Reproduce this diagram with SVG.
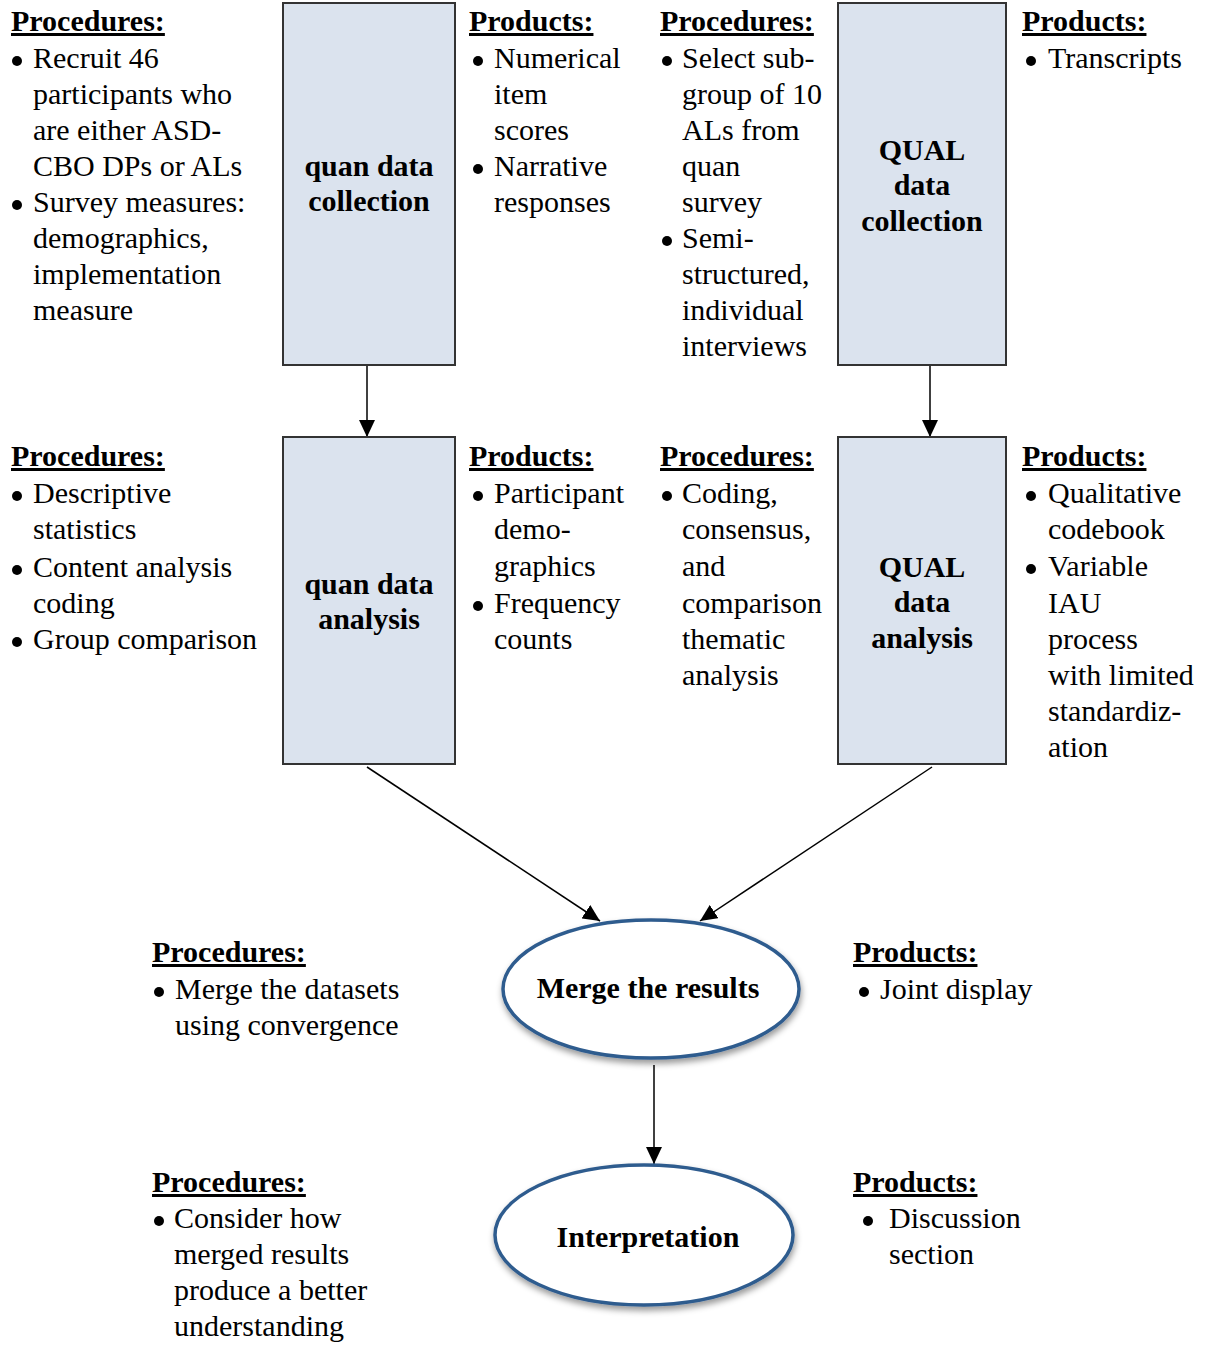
<svg xmlns="http://www.w3.org/2000/svg" width="1210" height="1345" viewBox="0 0 1210 1345">
<style>
.t{font-family:"Liberation Serif","Times New Roman",serif;font-size:30px;fill:#000}
.h{font-family:"Liberation Serif","Times New Roman",serif;font-size:30px;font-weight:bold;fill:#000;text-decoration:underline}
.b{font-family:"Liberation Serif","Times New Roman",serif;font-size:30px;font-weight:bold;fill:#000;text-anchor:middle}
.box{fill:#dbe3ee;stroke:#333;stroke-width:2}
.ell{fill:#fff;stroke:#2f5b8e;stroke-width:3.5}
.dot{fill:#000}
.c{stroke:#000;stroke-width:1.5;fill:none;marker-end:url(#ah)}
</style>
<defs>
<marker id="ah" markerUnits="userSpaceOnUse" markerWidth="18" markerHeight="16" refX="17" refY="8" orient="auto">
<path d="M0,0 L17,8 L0,16 Z" fill="#000"/>
</marker>
<filter id="sh" x="-20%" y="-20%" width="140%" height="150%">
<feDropShadow dx="1" dy="4" stdDeviation="3" flood-color="#000" flood-opacity="0.4"/>
</filter>
</defs>

<g id="connectors">
<line class="c" x1="367" y1="365" x2="367" y2="437"/>
<line class="c" x1="930" y1="365" x2="930" y2="437"/>
<line class="c" x1="367" y1="767" x2="600" y2="921"/>
<line class="c" x1="932" y1="767" x2="700" y2="921"/>
<line class="c" x1="654" y1="1065" x2="654" y2="1164"/>
</g>

<g id="quan-collection">
<rect class="box" x="283" y="3" width="172" height="362"/>
<text class="b" x="369" y="176">quan data</text>
<text class="b" x="369" y="211">collection</text>
</g>
<g id="QUAL-collection">
<rect class="box" x="838" y="3" width="168" height="362"/>
<text class="b" x="922" y="160">QUAL</text>
<text class="b" x="922" y="195">data</text>
<text class="b" x="922" y="231">collection</text>
</g>
<g id="quan-analysis">
<rect class="box" x="283" y="437" width="172" height="327"/>
<text class="b" x="369" y="594">quan data</text>
<text class="b" x="369" y="629">analysis</text>
</g>
<g id="QUAL-analysis">
<rect class="box" x="838" y="437" width="168" height="327"/>
<text class="b" x="922" y="577">QUAL</text>
<text class="b" x="922" y="612">data</text>
<text class="b" x="922" y="648">analysis</text>
</g>
<g id="merge">
<ellipse class="ell" cx="651" cy="989" rx="148" ry="69" filter="url(#sh)"/>
<text class="b" x="648" y="998">Merge the results</text>
</g>
<g id="interpretation">
<ellipse class="ell" cx="644" cy="1235" rx="149" ry="70" filter="url(#sh)"/>
<text class="b" x="648" y="1247">Interpretation</text>
</g>

<g id="proc-quan-collection">
<text class="h" x="11" y="31">Procedures:</text>
<circle class="dot" cx="17" cy="61" r="5"/>
<text class="t" x="33" y="68">Recruit 46</text>
<text class="t" x="33" y="104">participants who</text>
<text class="t" x="33" y="140">are either ASD-</text>
<text class="t" x="33" y="176">CBO DPs or ALs</text>
<circle class="dot" cx="17" cy="205" r="5"/>
<text class="t" x="33" y="212">Survey measures:</text>
<text class="t" x="33" y="248">demographics,</text>
<text class="t" x="33" y="284">implementation</text>
<text class="t" x="33" y="320">measure</text>
</g>
<g id="prod-quan-collection">
<text class="h" x="469" y="31">Products:</text>
<circle class="dot" cx="478" cy="61" r="5"/>
<text class="t" x="494" y="68">Numerical</text>
<text class="t" x="494" y="104">item</text>
<text class="t" x="494" y="140">scores</text>
<circle class="dot" cx="478" cy="169" r="5"/>
<text class="t" x="494" y="176">Narrative</text>
<text class="t" x="494" y="212">responses</text>
</g>
<g id="proc-QUAL-collection">
<text class="h" x="660" y="31">Procedures:</text>
<circle class="dot" cx="667" cy="61" r="5"/>
<text class="t" x="682" y="68">Select sub-</text>
<text class="t" x="682" y="104">group of 10</text>
<text class="t" x="682" y="140">ALs from</text>
<text class="t" x="682" y="176">quan</text>
<text class="t" x="682" y="212">survey</text>
<circle class="dot" cx="667" cy="241" r="5"/>
<text class="t" x="682" y="248">Semi-</text>
<text class="t" x="682" y="284">structured,</text>
<text class="t" x="682" y="320">individual</text>
<text class="t" x="682" y="356">interviews</text>
</g>
<g id="prod-QUAL-collection">
<text class="h" x="1022" y="31">Products:</text>
<circle class="dot" cx="1031" cy="61" r="5"/>
<text class="t" x="1048" y="68">Transcripts</text>
</g>

<g id="proc-quan-analysis">
<text class="h" x="11" y="466">Procedures:</text>
<circle class="dot" cx="17" cy="496" r="5"/>
<text class="t" x="33" y="503">Descriptive</text>
<text class="t" x="33" y="539">statistics</text>
<circle class="dot" cx="17" cy="570" r="5"/>
<text class="t" x="33" y="577">Content analysis</text>
<text class="t" x="33" y="613">coding</text>
<circle class="dot" cx="17" cy="642" r="5"/>
<text class="t" x="33" y="649">Group comparison</text>
</g>
<g id="prod-quan-analysis">
<text class="h" x="469" y="466">Products:</text>
<circle class="dot" cx="478" cy="496" r="5"/>
<text class="t" x="494" y="503">Participant</text>
<text class="t" x="494" y="539">demo-</text>
<text class="t" x="494" y="576">graphics</text>
<circle class="dot" cx="478" cy="606" r="5"/>
<text class="t" x="494" y="613">Frequency</text>
<text class="t" x="494" y="649">counts</text>
</g>
<g id="proc-QUAL-analysis">
<text class="h" x="660" y="466">Procedures:</text>
<circle class="dot" cx="667" cy="496" r="5"/>
<text class="t" x="682" y="503">Coding,</text>
<text class="t" x="682" y="539">consensus,</text>
<text class="t" x="682" y="576">and</text>
<text class="t" x="682" y="613">comparison</text>
<text class="t" x="682" y="649">thematic</text>
<text class="t" x="682" y="685">analysis</text>
</g>
<g id="prod-QUAL-analysis">
<text class="h" x="1022" y="466">Products:</text>
<circle class="dot" cx="1031" cy="496" r="5"/>
<text class="t" x="1048" y="503">Qualitative</text>
<text class="t" x="1048" y="539">codebook</text>
<circle class="dot" cx="1031" cy="569" r="5"/>
<text class="t" x="1048" y="576">Variable</text>
<text class="t" x="1048" y="613">IAU</text>
<text class="t" x="1048" y="649">process</text>
<text class="t" x="1048" y="685">with limited</text>
<text class="t" x="1048" y="721">standardiz-</text>
<text class="t" x="1048" y="757">ation</text>
</g>

<g id="proc-merge">
<text class="h" x="152" y="962">Procedures:</text>
<circle class="dot" cx="159" cy="992" r="5"/>
<text class="t" x="175" y="999">Merge the datasets</text>
<text class="t" x="175" y="1035">using convergence</text>
</g>
<g id="prod-merge">
<text class="h" x="853" y="962">Products:</text>
<circle class="dot" cx="864" cy="992" r="5"/>
<text class="t" x="880" y="999">Joint display</text>
</g>
<g id="proc-interpretation">
<text class="h" x="152" y="1192">Procedures:</text>
<circle class="dot" cx="159" cy="1221" r="5"/>
<text class="t" x="174" y="1228">Consider how</text>
<text class="t" x="174" y="1264">merged results</text>
<text class="t" x="174" y="1300">produce a better</text>
<text class="t" x="174" y="1336">understanding</text>
</g>
<g id="prod-interpretation">
<text class="h" x="853" y="1192">Products:</text>
<circle class="dot" cx="868" cy="1221" r="5"/>
<text class="t" x="889" y="1228">Discussion</text>
<text class="t" x="889" y="1264">section</text>
</g>
</svg>
